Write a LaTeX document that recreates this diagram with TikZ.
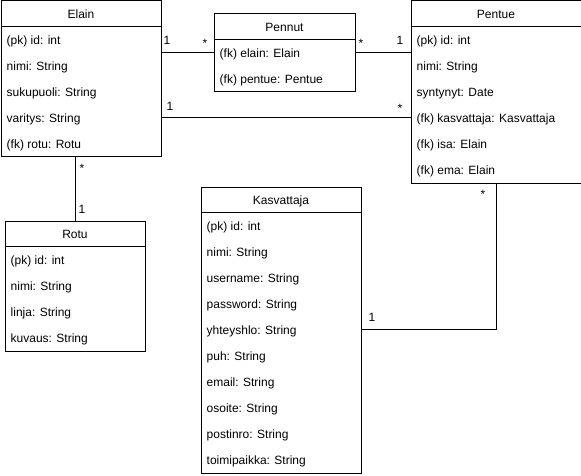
\documentclass[tikz,border=0pt]{standalone}
\usepackage{fontspec}
\setmainfont{Liberation Sans}
\tikzset{
  clsbox/.style={draw, line width=1pt, inner sep=0pt, anchor=north west},
  clstitle/.style={inner sep=0pt, anchor=base},
  attr/.style={inner sep=0pt, anchor=base west},
  lbl/.style={inner sep=0pt, anchor=base},
  conn/.style={draw, line width=1pt},
}
\newcommand{\umlbox}[7]{%
  \node[clsbox, minimum width=#4pt, minimum height=#5pt] (#1) at (#2,#3) {};
  \node[clstitle] (#1-t) at ([yshift=-18pt]#1.north) {#6};
  \draw[line width=1pt] ([yshift=-26pt]#1.north west) -- ([yshift=-26pt]#1.north east);
  \foreach \a [count=\i] in {#7}
    \node[attr] (#1-\i) at ([xshift=6pt,yshift={-18pt-26pt*\i}]#1.north west) {\a};
}
\begin{document}
\begin{tikzpicture}[x=1pt,y=-1pt,font=\fontsize{12}{14}\selectfont]
\useasboundingbox (0,0) rectangle (581,476);
\umlbox{elain}{0.5}{0.5}{160}{156}{Elain}{{(pk) id: int},{nimi: String},{sukupuoli: String},{varitys: String},{(fk) rotu: Rotu}}
\umlbox{pennut}{213.5}{13.5}{141}{78}{Pennut}{{(fk) elain: Elain},{(fk) pentue: Pentue}}
\umlbox{pentue}{410.5}{0.5}{170}{182}{Pentue}{{(pk) id: int},{nimi: String},{syntynyt: Date},{(fk) kasvattaja: Kasvattaja},{(fk) isa: Elain},{(fk) ema: Elain}}
\umlbox{kasv}{200.5}{186.5}{160}{286}{Kasvattaja}{{(pk) id: int},{nimi: String},{username: String},{password: String},{yhteyshlo: String},{puh: String},{email: String},{osoite: String},{postinro: String},{toimipaikka: String}}
\umlbox{rotu}{4.5}{220.5}{140}{130}{Rotu}{{(pk) id: int},{nimi: String},{linja: String},{kuvaus: String}}
% connectors
\draw[conn] (elain.east |- pennut.west) -- (pennut.west);
\draw[conn] (pennut.east) -- (pennut.east -| pentue.west);
\draw[conn] (elain.east |- 0,117.5) -- (pentue.west |- 0,117.5);
\draw[conn] (rotu.north) -- (rotu.north |- elain.south);
\draw[conn] (pentue.south) |- (kasv.east |- 0,329.5);
% multiplicities
\node[lbl] (m1) at (167,45) {1};
\node[lbl] (m2) at (205,48) {*};
\node[lbl] (m3) at (361,48) {*};
\node[lbl] (m4) at (400,45) {1};
\node[lbl] (m5) at (170,111) {1};
\node[lbl] (m6) at (400,113) {*};
\node[lbl] (m7) at (82,172) {*};
\node[lbl] (m8) at (82,213) {1};
\node[lbl] (m9) at (483,198) {*};
\node[lbl] (m10) at (372,321) {1};
\end{tikzpicture}
\end{document}
